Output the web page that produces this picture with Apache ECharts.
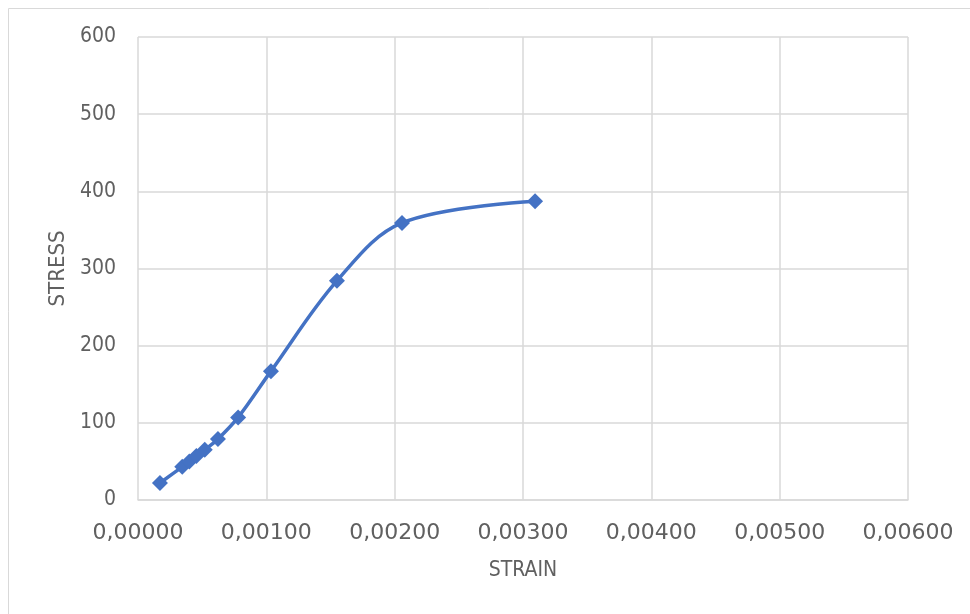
<!DOCTYPE html>
<html>
<head>
<meta charset="utf-8">
<style>html,body{margin:0;padding:0;background:#fff;}#c{width:970px;height:614px;}</style>
<script src="https://cdn.jsdelivr.net/npm/echarts@6/dist/echarts.min.js"></script>
</head>
<body>
<div id="c"></div>
<script>
var strain = [0.000171, 0.000345, 0.000400, 0.000455, 0.000520, 0.000623, 0.000780, 0.001036, 0.001550, 0.002057, 0.003094];
var stress = [22, 43, 50, 57, 65, 79, 107, 167, 284, 359, 387];
var xTicks = {min: 0, max: 0.006, interval: 0.001};
var yTicks = {min: 0, max: 600, interval: 100};

var chart = echarts.init(document.getElementById('c'));
var condensed = '"DejaVu Sans Condensed", "DejaVu Sans", sans-serif';
var wide = '"DejaVu Sans", sans-serif';
chart.setOption({
  animation: false,
  graphic: [{type: 'rect', shape: {x: 8.5, y: 8.5, width: 1000, height: 1000}, style: {fill: 'none', stroke: '#d9d9d9', lineWidth: 1}, silent: true}],
  grid: {left: 138, right: 62, top: 37, bottom: 114},
  xAxis: {
    type: 'value', min: xTicks.min, max: xTicks.max, interval: xTicks.interval,
    name: 'STRAIN', nameLocation: 'middle', nameGap: 60,
    nameTextStyle: {color: '#606060', fontSize: 21, fontFamily: condensed},
    axisLine: {show: true, lineStyle: {color: '#d9d9d9', width: 1.5}},
    axisTick: {show: false},
    splitLine: {show: true, lineStyle: {color: '#d9d9d9', width: 1.5}},
    axisLabel: {color: '#606060', fontSize: 22, fontFamily: wide, margin: 22,
      formatter: function (v) { return v.toFixed(5).replace('.', ','); }}
  },
  yAxis: {
    type: 'value', min: yTicks.min, max: yTicks.max, interval: yTicks.interval,
    name: 'STRESS', nameLocation: 'middle', nameGap: 69,
    nameTextStyle: {color: '#606060', fontSize: 22, fontFamily: condensed},
    axisLine: {show: false}, axisTick: {show: false},
    splitLine: {show: true, lineStyle: {color: '#d9d9d9', width: 1.5}},
    axisLabel: {color: '#606060', fontSize: 21, fontFamily: condensed, margin: 22}
  },
  series: [{
    type: 'line', smooth: 0.35,
    data: strain.map(function (s, i) { return [s, stress[i]]; }),
    symbol: 'diamond', symbolSize: 16,
    lineStyle: {color: '#4472C4', width: 3.5},
    itemStyle: {color: '#4472C4'}
  }]
});
</script>
</body>
</html>
